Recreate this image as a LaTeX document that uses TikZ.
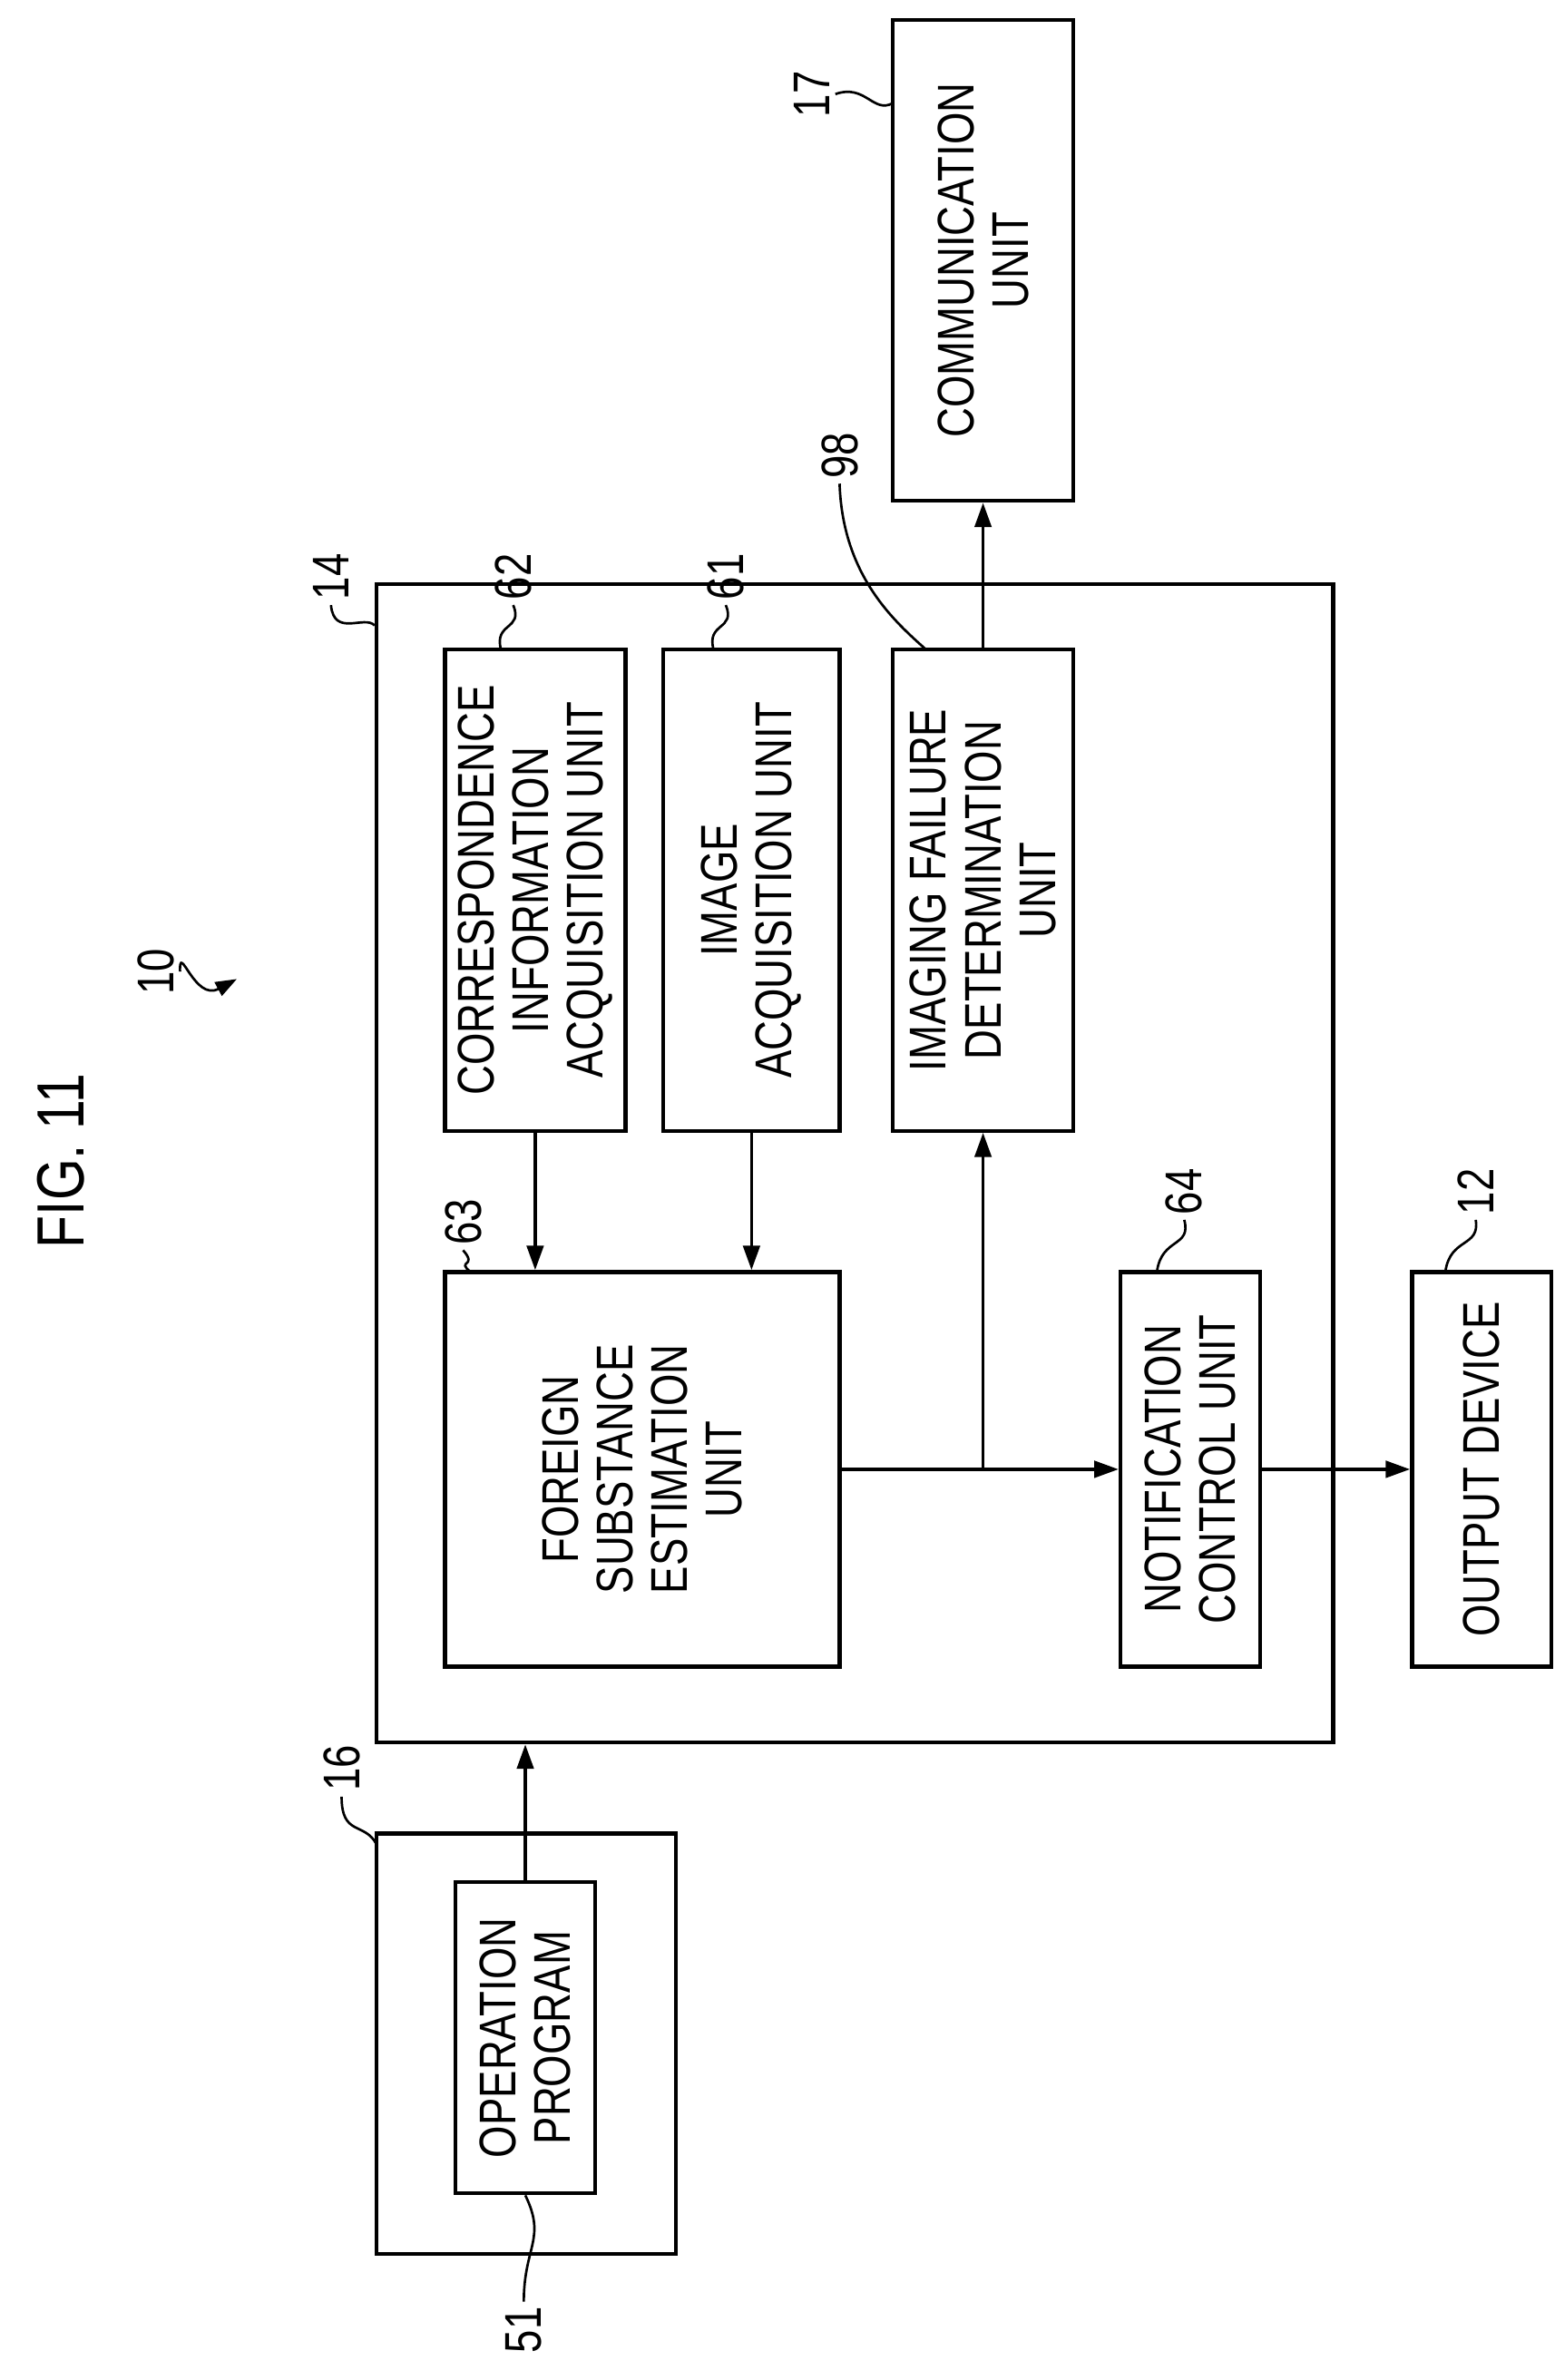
\documentclass[tikz,border=0pt]{standalone}
\usepackage{fontspec}
\setmainfont[FakeStretch=0.8]{Liberation Sans}
\usetikzlibrary{calc}
\usetikzlibrary{arrows.meta}

\tikzset{
  unit/.style={draw,line width=2.6pt,rotate=90,inner sep=0pt,align=center,
    font=\fontsize{34}{36}\selectfont},
  lbl/.style={rotate=90,font=\fontsize{34}{36}\selectfont},
  flow/.style={line width=2pt,-{Triangle[length=16pt,width=11pt]}},
  lead/.style={line width=1.6pt}
}

\begin{document}
\begin{tikzpicture}[x=1pt,y=-1pt]
    \useasboundingbox (0,0) rectangle (1024,1568);

    % boxes (rotated: width is the vertical extent)
    \node[unit,minimum width=763,minimum height=630] (proc) at (563,766.5) {};
    \node[unit,minimum width=317,minimum height=119] (corr) at (352.5,586.5) {CORRESPONDENCE\\INFORMATION\\ACQUISITION UNIT};
    \node[unit,minimum width=317,minimum height=116] (imgacq) at (495,586.5) {IMAGE\\ACQUISITION UNIT};
    \node[unit,minimum width=317,minimum height=119] (fail) at (647.5,586.5) {IMAGING FAILURE\\DETERMINATION\\UNIT};
    \node[unit,minimum width=260,minimum height=260] (estim) at (423,968) {FOREIGN\\SUBSTANCE\\ESTIMATION\\UNIT};
    \node[unit,minimum width=260,minimum height=92] (notif) at (784,968) {NOTIFICATION\\CONTROL UNIT};
    \node[unit,minimum width=260,minimum height=92] (outdev) at (976,968) {OUTPUT DEVICE};
    \node[unit,minimum width=317,minimum height=119] (comm) at (647.5,171.5) {COMMUNICATION\\UNIT};
    \node[unit,minimum width=277,minimum height=197] (store) at (346.5,1346.5) {};
    \node[unit,minimum width=205,minimum height=92] (prog) at (346,1342.5) {OPERATION\\PROGRAM};

    \coordinate (split) at (estim.south -| fail.center);

    \draw[flow] (corr.west) -- (corr.west |- estim.east);
    \draw[flow] (imgacq.west) -- (imgacq.west |- estim.east);
    \draw[flow] (estim.south) -- (notif.north);
    \draw[flow] (split) -- (fail.west);
    \draw[flow] (fail.east) -- (comm.west);
    \draw[flow] (notif.south) -- (outdev.north);
    \draw[flow] (prog.east) -- (prog.east |- proc.west);

    % labels and leaders
    \node[lbl,font=\fontsize{44}{46}\selectfont] (fig) at (40,765) {FIG. 11};
    \node[lbl] (n10) at (103,640) {10};
    \coordinate (t10) at (156,645);
    \draw[lead,-{Triangle[length=14pt,width=10pt]}] (n10.south) .. controls (118,620) and (128,660) .. (t10);
    \node[lbl] (n14) at (218,380) {14};
    \draw[lead] (n14.west) .. controls (220,420) and (240,405) .. (proc.north |- 0,412);
    \node[lbl] (n62) at (338,380) {62};
    \draw[lead] (n62.west) .. controls (345,415) and (325,410) .. (330,428);
    \node[lbl] (n61) at (478,380) {61};
    \draw[lead] (n61.west) .. controls (485,415) and (465,410) .. (470,428);
    \node[lbl] (n98) at (553,300) {98};
    \draw[lead] (n98.west) .. controls (555,380) and (590,410) .. (610,428);
    \node[lbl] (n17) at (535,62) {17};
    \draw[lead] (n17.south) .. controls (570,55) and (575,75) .. (588,68);
    \node[lbl] (n63) at (305,805) {63};
    \draw[lead] (n63.west) .. controls (315,835) and (300,830) .. (310,838);
    \node[lbl] (n64) at (780,785) {64};
    \draw[lead] (n64.west) .. controls (785,822) and (765,815) .. (762,838);
    \node[lbl] (n12) at (972,785) {12};
    \draw[lead] (n12.west) .. controls (975,822) and (955,815) .. (952,838);
    \node[lbl] (n16) at (225,1165) {16};
    \draw[lead] (n16.west) .. controls (225,1210) and (240,1200) .. (248,1215);
    \node[lbl] (n51) at (345,1535) {51};
    \draw[lead] (n51.east) .. controls (345,1480) and (360,1475) .. (prog.west);
\end{tikzpicture}
\end{document}
